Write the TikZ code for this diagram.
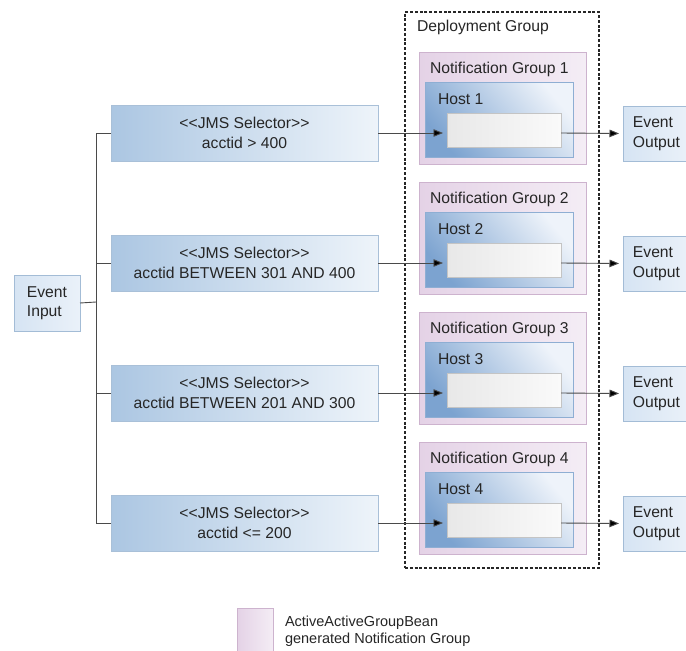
\documentclass[tikz,border=0pt]{standalone}
\usepackage{fontspec}
\setmainfont{Liberation Sans}
\usetikzlibrary{shadows,arrows.meta}
\definecolor{txt}{HTML}{262626}
\definecolor{linec}{HTML}{4A4A4A}
\definecolor{selL}{HTML}{ABC6E2}
\definecolor{selR}{HTML}{EEF4FA}
\definecolor{selB}{HTML}{A9C0D8}
\definecolor{hostD}{HTML}{7CA3D0}
\definecolor{hostL}{HTML}{EEF3FA}
\definecolor{hostB}{HTML}{8EAED3}
\definecolor{ngL}{HTML}{E4D2E6}
\definecolor{ngR}{HTML}{F4EDF5}
\definecolor{ngB}{HTML}{CDB3CE}
\definecolor{inL}{HTML}{E8E8E8}
\definecolor{inR}{HTML}{FAFAFA}
\definecolor{inB}{HTML}{C4C4C4}
\definecolor{evL}{HTML}{D6E4F3}
\definecolor{evR}{HTML}{EAF1F9}
\definecolor{evB}{HTML}{A3BCD6}
\begin{document}
\begin{tikzpicture}[x=1pt,y=-1pt,
  every node/.style={inner sep=0pt,outer sep=0pt,text=txt,font=\fontsize{15.7}{19.5}\selectfont},
  boxbase/.style={anchor=north west,line width=0.8pt,
    general shadow={fill=black!40,shadow xshift=0.9pt,shadow yshift=-1.1pt}},
  selbox/.style={boxbase,draw=selB,left color=selL,right color=selR,
    minimum width=267pt,minimum height=56pt,align=center},
  ngbox/.style={boxbase,draw=ngB,left color=ngL,right color=ngR,
    minimum width=167pt,minimum height=112pt},
  hostbox/.style={boxbase,draw=hostB,top color=hostL,bottom color=hostD,shading angle=-50,
    minimum width=148pt,minimum height=75pt},
  innerbox/.style={boxbase,draw=inB,left color=inL,right color=inR,
    minimum width=114pt,minimum height=34pt},
  evbox/.style={boxbase,draw=evB,left color=evL,right color=evR,
    minimum width=67pt,minimum height=55pt,align=left},
  lbl/.style={anchor=base west},
  depl/.style={anchor=north west,draw=black!85,line width=1.3pt,dash pattern=on 3pt off 1.8pt,
    minimum width=194pt,minimum height=556pt},
  conn/.style={draw=linec,line width=0.9pt},
  arr/.style={conn,shorten >=4pt,-{Triangle[length=9.5pt,width=7.5pt,fill=black]}}
]
\useasboundingbox[fill=white] (0,0) rectangle (686,651);

\node[depl] (dep) at (405,12) {};
\node[lbl] (deplbl) at (417,31) {Deployment Group};

\node[evbox,minimum width=66pt,minimum height=56pt] (evin) at (14,275) {Event\\Input};
\coordinate (trunk) at (96,302);

\foreach \i/\txt in {1/{acctid > 400},2/{acctid BETWEEN 301 AND 400},3/{acctid BETWEEN 201 AND 300},4/{acctid <= 200}}{
  \pgfmathsetmacro\oy{130*(\i-1)}
  \node[selbox] (sel\i) at (111,105+\oy) {<\kern0pt<JMS Selector>\kern0pt>\\\txt};
  \node[ngbox] (ng\i) at (419,52+\oy) {};
  \node[lbl] (ngl\i) at (430,73+\oy) {Notification Group \i};
  \node[hostbox] (host\i) at (425,82+\oy) {};
  \node[lbl] (hl\i) at (438,104+\oy) {Host \i};
  \node[innerbox] (in\i) at (447,113+\oy) {};
  \node[evbox] (out\i) at (623,106+\oy) {Event\\Output};
  \draw[arr] (sel\i.east) -- (sel\i.east -| in\i.west);
  \draw[arr] (sel\i.east -| in\i.east) -- (out\i.west);
  \draw[conn] (sel\i.west) -- (sel\i.west -| trunk);
}
\draw[conn] (sel1.west -| trunk) -- (sel4.west -| trunk);
\draw[conn] (evin.east) -- (trunk);

\node[boxbase,draw=ngB,left color=ngL,right color=ngR,minimum width=36pt,minimum height=50pt] (leg) at (237,608) {};
\node[lbl,align=left,font=\fontsize{14.5}{16.5}\selectfont] (legt) at (285,643) {ActiveActiveGroupBean\\generated Notification Group};
\end{tikzpicture}
\end{document}
